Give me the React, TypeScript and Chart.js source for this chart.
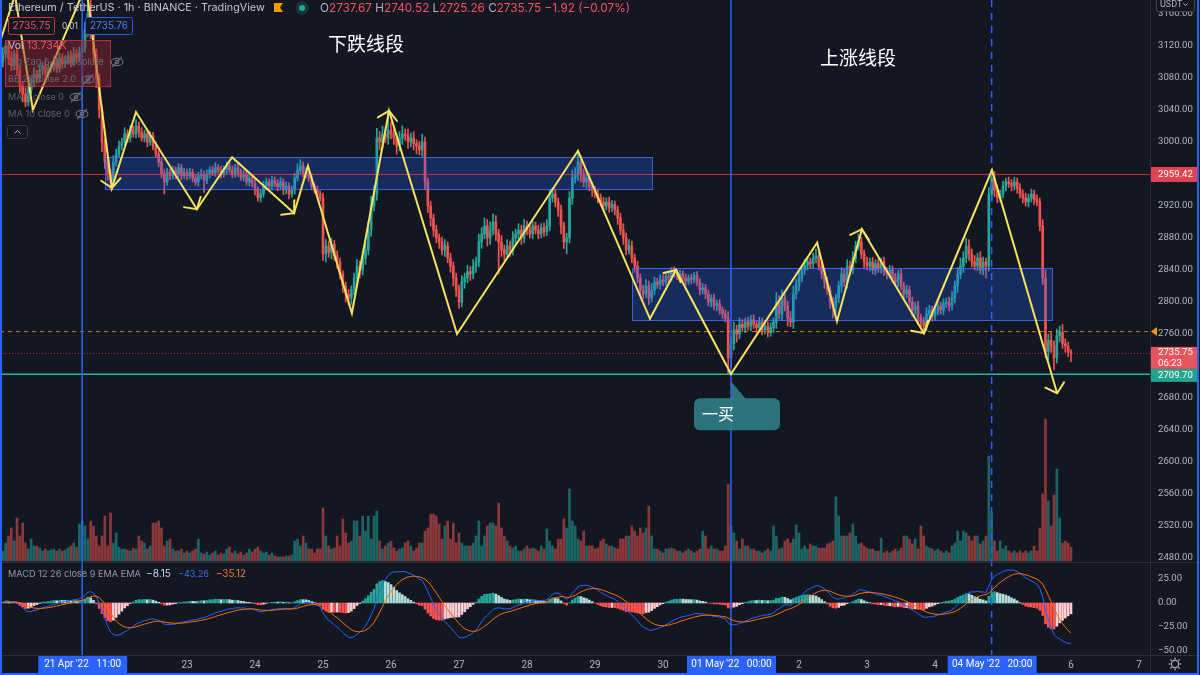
import React, { useEffect, useRef } from "react";
import { Chart, registerables } from "chart.js";

Chart.register(...registerables);

// ---------- DATA (1h candles, hours counted from 01 May 2022 00:00) ----------
const FIRST_HOUR = -258; // 20 Apr 06:00
const FIRST_OPEN = 3095;

const CLOSES: number[] = [
  // 20 Apr (06:00-23:00)
  3100, 3110, 3120, 3105, 3095, 3110, 3090, 3070, 3060, 3050, 3065, 3075, 3085, 3080, 3090, 3095, 3085, 3092,
  // 21 Apr
  3095, 3100, 3092, 3105, 3098, 3102, 3108, 3100, 3110, 3105, 3112, 3118, 3140, 3160, 3135, 3110, 3080, 3040, 3000, 2975, 2960, 2952, 2975, 2985,
  // 22 Apr
  2995, 3000, 3010, 3005, 3015, 3010, 3020, 3012, 3005, 3010, 3000, 3008, 2995, 2985, 2975, 2960, 2950, 2962, 2958, 2965, 2960, 2968, 2958, 2962,
  // 23 Apr
  2958, 2962, 2955, 2950, 2958, 2960, 2952, 2960, 2965, 2962, 2968, 2965, 2960, 2966, 2970, 2965, 2960, 2968, 2962, 2956, 2960, 2950, 2955, 2948,
  // 24 Apr
  2940, 2930, 2935, 2945, 2950, 2945, 2952, 2948, 2944, 2950, 2940, 2945, 2935, 2940, 2955, 2965, 2970, 2960, 2962, 2955, 2945, 2940, 2935, 2930,
  // 25 Apr
  2860, 2870, 2862, 2872, 2858, 2850, 2835, 2820, 2810, 2805, 2815, 2830, 2845, 2840, 2855, 2865, 2890, 2920, 2935, 3005, 3000, 3010, 3005, 3015,
  // 26 Apr
  3010, 3005, 2995, 3005, 3010, 3008, 3000, 3005, 2998, 2995, 2990, 3000, 2950, 2920, 2905, 2890, 2880, 2875, 2865, 2870, 2855, 2845, 2830, 2815,
  // 27 Apr
  2800, 2825, 2830, 2838, 2835, 2845, 2850, 2875, 2885, 2895, 2880, 2890, 2900, 2885, 2875, 2865, 2860, 2870, 2865, 2880, 2885, 2890, 2880, 2895,
  // 28 Apr
  2890, 2885, 2895, 2890, 2885, 2893, 2888, 2895, 2930, 2935, 2925, 2915, 2895, 2875, 2880, 2930, 2955, 2960, 2975, 2960, 2950, 2955, 2945, 2940,
  // 29 Apr
  2935, 2930, 2925, 2920, 2925, 2918, 2922, 2915, 2905, 2890, 2880, 2865, 2870, 2855, 2845, 2830, 2815, 2810, 2820, 2805, 2815, 2825, 2822, 2828,
  // 30 Apr
  2825, 2832, 2830, 2838, 2836, 2832, 2835, 2830, 2826, 2830, 2828, 2833, 2825, 2815, 2818, 2810, 2800, 2805, 2795, 2798, 2790, 2785, 2780, 2730,
  // 01 May
  2748, 2765, 2760, 2772, 2768, 2775, 2770, 2778, 2772, 2768, 2775, 2765, 2770, 2762, 2768, 2775, 2800, 2785, 2805, 2795, 2780, 2775, 2810, 2820,
  // 02 May
  2830, 2840, 2845, 2850, 2848, 2855, 2858, 2845, 2835, 2825, 2815, 2800, 2795, 2805, 2820, 2835, 2825, 2845, 2840, 2855, 2870, 2875, 2860, 2850,
  // 03 May
  2845, 2850, 2840, 2848, 2842, 2850, 2838, 2835, 2840, 2830, 2825, 2835, 2820, 2810, 2815, 2800, 2790, 2795, 2780, 2775, 2770, 2785, 2790, 2782,
  // 04 May
  2790, 2795, 2790, 2798, 2800, 2795, 2805, 2820, 2835, 2845, 2855, 2870, 2860, 2850, 2845, 2855, 2840, 2850, 2845, 2935, 2955, 2940, 2930, 2935,
  // 05 May
  2945, 2950, 2948, 2945, 2950, 2942, 2935, 2930, 2925, 2930, 2935, 2928, 2925, 2895, 2830, 2738, 2752, 2745, 2730, 2758, 2762, 2748, 2745, 2737.67,
  // 06 May 00:00
  2735.75,
];

const WICK_UP: number[] = [
  6, 8, 5, 6, 8, 5, 6, 5, 6, 8, 5, 6, 8, 5, 6, 5, 6, 5,
  5, 6, 5, 6, 5, 6, 5, 6, 8, 6, 7, 8, 10, 25, 30, 8, 6, 5, 5, 4, 5, 6, 8, 6,
  6, 5, 8, 5, 6, 5, 8, 5, 6, 5, 6, 5, 4, 5, 4, 5, 6, 5, 4, 5, 4, 5, 4, 5,
  4, 5, 4, 5, 4, 6, 4, 5, 4, 5, 6, 4, 5, 4, 5, 4, 5, 4, 5, 4, 5, 4, 5, 4,
  5, 4, 5, 6, 5, 4, 5, 4, 5, 6, 4, 5, 4, 5, 6, 8, 8, 5, 6, 4, 5, 4, 5, 4,
  6, 8, 6, 8, 5, 6, 5, 4, 5, 6, 5, 6, 8, 6, 8, 10, 10, 12, 10, 12, 8, 10, 8, 22,
  10, 8, 6, 8, 10, 6, 8, 6, 8, 5, 6, 10, 6, 5, 6, 5, 6, 5, 6, 8, 5, 6, 5, 6,
  6, 8, 6, 8, 6, 8, 6, 10, 8, 10, 8, 10, 10, 8, 6, 8, 6, 8, 6, 8, 6, 8, 6, 8,
  6, 8, 6, 5, 6, 5, 6, 8, 10, 8, 6, 5, 6, 5, 6, 8, 10, 8, 12, 8, 6, 8, 6, 5,
  5, 6, 5, 6, 5, 6, 5, 4, 5, 6, 8, 6, 8, 6, 5, 6, 5, 6, 8, 6, 8, 6, 5, 6,
  6, 5, 6, 5, 6, 4, 5, 4, 5, 4, 5, 4, 5, 4, 5, 4, 5, 4, 5, 4, 5, 4, 5, 8,
  8, 10, 6, 8, 6, 5, 6, 5, 6, 5, 6, 5, 6, 5, 6, 5, 12, 8, 10, 8, 6, 8, 10, 8,
  8, 6, 8, 6, 5, 6, 8, 5, 6, 5, 6, 5, 6, 5, 6, 8, 6, 8, 6, 8, 6, 10, 6, 5,
  6, 5, 6, 5, 6, 5, 6, 5, 6, 5, 6, 5, 6, 5, 6, 5, 6, 5, 6, 5, 6, 8, 6, 5,
  5, 6, 5, 6, 5, 6, 8, 6, 8, 10, 8, 10, 8, 6, 8, 6, 8, 6, 5, 8, 11, 8, 6, 5,
  6, 5, 6, 5, 6, 5, 6, 5, 6, 5, 6, 5, 6, 5, 8, 10, 8, 10, 6, 8, 8, 10, 6, 5,
  2.85,
];

const WICK_DN: number[] = [
  5, 6, 5, 8, 6, 5, 6, 8, 10, 6, 5, 5, 6, 6, 5, 6, 5, 5,
  5, 6, 5, 5, 6, 5, 5, 6, 5, 6, 5, 5, 6, 8, 6, 10, 12, 10, 12, 8, 8, 12, 6, 5,
  4, 5, 4, 6, 5, 4, 5, 6, 4, 5, 6, 4, 5, 4, 6, 5, 15, 4, 5, 4, 6, 4, 5, 4,
  5, 4, 5, 4, 5, 4, 15, 4, 5, 4, 5, 4, 5, 4, 5, 4, 5, 4, 5, 4, 5, 4, 5, 4,
  6, 4, 5, 4, 5, 4, 5, 4, 5, 4, 6, 5, 6, 4, 5, 4, 5, 4, 5, 4, 5, 4, 5, 4,
  8, 10, 6, 8, 6, 8, 6, 8, 10, 9, 8, 6, 8, 10, 6, 8, 6, 8, 6, 8, 10, 8, 6, 8,
  6, 8, 10, 6, 8, 6, 8, 6, 8, 10, 6, 8, 10, 8, 10, 8, 6, 8, 6, 8, 6, 8, 10, 8,
  8, 6, 8, 6, 8, 6, 8, 6, 8, 6, 10, 8, 6, 8, 40, 8, 8, 6, 8, 6, 8, 6, 8, 6,
  6, 5, 6, 5, 6, 5, 6, 5, 6, 5, 6, 8, 10, 8, 15, 6, 8, 6, 8, 10, 6, 8, 6, 8,
  5, 6, 5, 6, 5, 6, 5, 6, 8, 6, 8, 6, 5, 6, 8, 6, 8, 6, 5, 8, 5, 6, 5, 6,
  5, 4, 5, 4, 5, 4, 5, 4, 5, 4, 5, 4, 5, 6, 5, 6, 5, 6, 5, 6, 5, 6, 5, 20,
  12, 8, 10, 6, 5, 6, 5, 6, 5, 6, 5, 6, 5, 6, 5, 6, 8, 6, 8, 6, 10, 6, 8, 6,
  6, 5, 6, 5, 6, 5, 6, 5, 6, 8, 6, 8, 15, 8, 6, 8, 6, 8, 6, 5, 6, 5, 6, 8,
  5, 6, 5, 6, 5, 6, 5, 6, 5, 6, 5, 6, 5, 6, 5, 6, 8, 6, 8, 6, 8, 6, 5, 6,
  5, 6, 5, 6, 5, 6, 5, 6, 8, 6, 8, 6, 8, 6, 5, 6, 5, 6, 15, 6, 8, 8, 6, 5,
  5, 6, 5, 6, 5, 6, 5, 6, 5, 6, 5, 6, 5, 6, 8, 8, 10, 8, 15, 6, 8, 6, 8, 6,
  10.49,
];

// volume in thousands of ETH
const VOLUMES: number[] = [
  14, 10, 18, 25, 33, 20, 43, 25, 38, 18, 12, 22, 15, 15, 13, 10, 12, 10,
  11, 12, 10, 12, 10, 11, 13, 15, 18, 14, 37, 40, 35, 22, 40, 35, 25, 15, 25, 45, 15, 48, 18, 28,
  14, 12, 12, 11, 10, 13, 12, 25, 20, 18, 12, 15, 38, 38, 40, 33, 15, 20, 22, 12, 10, 10, 12, 8,
  10, 8, 10, 12, 22, 8, 7, 9, 6, 8, 10, 6, 8, 7, 12, 14, 8, 10, 7, 9, 6, 8, 12, 9,
  12, 14, 10, 8, 9, 6, 8, 5, 4, 4, 4, 5, 5, 6, 20, 22, 15, 25, 18, 12, 12, 8, 12, 12,
  53, 25, 15, 12, 13, 25, 15, 42, 28, 18, 20, 40, 40, 25, 45, 30, 45, 22, 45, 50, 20, 12, 15, 18,
  20, 13, 10, 12, 13, 18, 20, 15, 10, 13, 18, 18, 30, 33, 47, 47, 45, 37, 22, 35, 40, 22, 38, 18,
  28, 18, 15, 15, 15, 18, 25, 40, 15, 25, 35, 38, 38, 35, 58, 33, 25, 20, 15, 13, 15, 10, 10, 12,
  15, 12, 13, 12, 10, 15, 12, 32, 20, 15, 12, 22, 22, 42, 33, 72, 40, 35, 22, 20, 30, 15, 15, 15,
  12, 13, 20, 22, 17, 15, 15, 13, 12, 22, 22, 25, 25, 35, 30, 25, 33, 28, 33, 55, 25, 12, 12, 10,
  8, 12, 12, 13, 12, 10, 10, 8, 10, 12, 10, 8, 10, 12, 30, 25, 12, 15, 12, 12, 10, 10, 15, 77,
  35, 28, 20, 12, 22, 15, 15, 12, 12, 10, 10, 8, 10, 12, 10, 35, 25, 12, 13, 20, 22, 18, 22, 36,
  28, 12, 15, 12, 17, 15, 15, 13, 13, 13, 17, 18, 20, 64, 45, 25, 25, 25, 28, 37, 25, 17, 18, 15,
  13, 12, 12, 10, 10, 23, 8, 10, 8, 10, 12, 10, 13, 25, 25, 22, 17, 22, 12, 35, 25, 15, 13, 12,
  10, 12, 10, 8, 10, 8, 15, 18, 30, 20, 30, 28, 25, 20, 25, 25, 17, 20, 25, 105, 48, 20, 10, 20,
  12, 15, 10, 8, 10, 8, 10, 8, 10, 8, 10, 15, 10, 33, 67, 142, 60, 35, 66, 92, 43, 18, 20, 18,
  14,
];

// hand-drawn zig-zag (hour, price)
const ZZ_HOURS = [-258, -252.7, -246.4, -227.6, -218.5, -210, -188.5, -176.1, -154.2, -149.3, -133.8, -120.7, -96.7, -54, -28.6, -19.4, 0, 30.4, 37.4, 46.2, 68.1, 92.1, 115.1];
const ZZ_PRICES = [3125, 3184, 3040, 3196, 2942.5, 3037.5, 2916, 2981, 2911, 2970, 2786, 3039, 2760, 2989, 2779, 2840, 2710, 2874, 2776, 2891, 2761, 2965, 2686];
const ZZ_ARROWS = [4, 6, 8, 11, 15, 19, 20, 22];

// consolidation boxes
const BOX_START = [-220.9, -34.9];
const BOX_END = [-27.9, 113.3];
const BOX_TOP = [2981.25, 2842.5];
const BOX_BOTTOM = [2941.25, 2777.5];

const LEVEL_RED = 2959.42;
const LEVEL_GREEN = 2709.7;
const LEVEL_ORANGE = 2763;
const LAST_PRICE = 2735.75;

const PRICE_TICKS = [2480, 2520, 2560, 2600, 2640, 2680, 2760, 2800, 2840, 2880, 2920, 3000, 3040, 3080, 3120, 3160];
const MACD_TICKS = [25, 0, -25, -50];
const DAY_TICK_HOURS = [-192, -168, -144, -120, -96, -72, -48, -24, 24, 48, 72, 120, 144];
const DAY_TICK_LABELS = ["23", "24", "25", "26", "27", "28", "29", "30", "2", "3", "4", "6", "7"];
const MARK_HOURS = [-229, 0, 92];
const MARK_LABELS = ["21 Apr '22   11:00", "01 May '22   00:00", "04 May '22   20:00"];

// ---------- STYLE ----------
const BG = "#131722";
const UP = "#26a69a";
const DOWN = "#ef5350";
const TEXT = "#b2b5be";
const YELLOW = "#f7e35c";
const BLUE = "#2962ff";
const RED_TXT = "#f7525f";
const FONT = "Inter, Roboto, 'Noto Sans', sans-serif";
const AXIS_FONT = "Roboto, 'Noto Sans', sans-serif";
const AXIS_SIZE = 9.6;
const CJK = "'Noto Sans CJK SC', sans-serif";

function ema(src: number[], len: number) {
  const k = 2 / (len + 1);
  const out: number[] = [];
  let prev = src[0];
  src.forEach((v, i) => {
    prev = i === 0 ? v : v * k + prev * (1 - k);
    out.push(prev);
  });
  return out;
}

const HOURS = CLOSES.map((_, i) => FIRST_HOUR + i);
const OPENS = CLOSES.map((c, i) => (i === 0 ? FIRST_OPEN : CLOSES[i - 1]));
const HIGHS = CLOSES.map((c, i) => Math.max(c, OPENS[i]) + (WICK_UP[i] ?? 4));
const LOWS = CLOSES.map((c, i) => Math.min(c, OPENS[i]) - (WICK_DN[i] ?? 4));
const IS_UP = CLOSES.map((c, i) => c >= OPENS[i]);
const EMA12 = ema(CLOSES, 12);
const EMA26 = ema(CLOSES, 26);
const MACD = EMA12.map((v, i) => v - EMA26[i]);
const SIGNAL = ema(MACD, 9);
const HIST = MACD.map((v, i) => v - SIGNAL[i]);
const HIST_COLORS = HIST.map((v, i) => {
  const p = i === 0 ? 0 : HIST[i - 1];
  if (v >= 0) return v > p ? "#26a69a" : "#b2dfdb";
  return v < p ? "#ff5252" : "#ffcdd2";
});

// ---------- DRAW HELPERS ----------
function seg(ctx: any, x1: number, y1: number, x2: number, y2: number, color: string, w: number, dash: number[] = []) {
  ctx.save();
  ctx.strokeStyle = color;
  ctx.lineWidth = w;
  ctx.setLineDash(dash);
  ctx.beginPath();
  ctx.moveTo(x1, y1);
  ctx.lineTo(x2, y2);
  ctx.stroke();
  ctx.restore();
}

function fitText(ctx: any, text: string, x: number, y: number, width: number, size: number, family: string, color: string, align: string = "left") {
  ctx.save();
  ctx.font = `${size}px ${family}`;
  const w = ctx.measureText(text).width;
  const s = w > 0 ? (size * width) / w : size;
  ctx.font = `${s.toFixed(2)}px ${family}`;
  ctx.fillStyle = color;
  ctx.textAlign = align;
  ctx.textBaseline = "middle";
  ctx.fillText(text, x, y);
  ctx.restore();
}

function text(ctx: any, t: string, x: number, y: number, size: number, family: string, color: string, align: string = "left") {
  ctx.save();
  ctx.font = `${size}px ${family}`;
  ctx.fillStyle = color;
  ctx.textAlign = align;
  ctx.textBaseline = "middle";
  ctx.fillText(t, x, y);
  ctx.restore();
}

function segText(ctx: any, parts: [string, string][], x: number, y: number, width: number, size: number, family: string) {
  ctx.save();
  ctx.font = `${size}px ${family}`;
  const total = parts.reduce((a, [t]) => a + ctx.measureText(t).width, 0);
  const s = (size * width) / total;
  ctx.font = `${s.toFixed(2)}px ${family}`;
  ctx.textBaseline = "middle";
  ctx.textAlign = "left";
  let cx = x;
  for (const [t, c] of parts) {
    ctx.fillStyle = c;
    ctx.fillText(t, cx, y);
    cx += ctx.measureText(t).width;
  }
  ctx.restore();
}

function eyeOff(ctx: any, cx: number, cy: number) {
  ctx.save();
  ctx.strokeStyle = "#6b6e79";
  ctx.lineWidth = 1.1;
  ctx.beginPath();
  ctx.ellipse(cx, cy, 6, 3.6, 0, 0, Math.PI * 2);
  ctx.stroke();
  ctx.beginPath();
  ctx.arc(cx, cy, 1.8, 0, Math.PI * 2);
  ctx.stroke();
  ctx.beginPath();
  ctx.moveTo(cx - 5, cy + 5);
  ctx.lineTo(cx + 5, cy - 5);
  ctx.stroke();
  ctx.restore();
}

function gear(ctx: any, cx: number, cy: number) {
  ctx.save();
  ctx.strokeStyle = TEXT;
  ctx.lineWidth = 1.2;
  ctx.beginPath();
  ctx.arc(cx, cy, 3.6, 0, Math.PI * 2);
  ctx.stroke();
  for (let i = 0; i < 8; i++) {
    const a = (i * Math.PI) / 4;
    ctx.beginPath();
    ctx.moveTo(cx + Math.cos(a) * 4.6, cy + Math.sin(a) * 4.6);
    ctx.lineTo(cx + Math.cos(a) * 6.4, cy + Math.sin(a) * 6.4);
    ctx.stroke();
  }
  ctx.restore();
}

function tag(ctx: any, y: number, h: number, bg: string, lines: string[]) {
  ctx.save();
  ctx.fillStyle = bg;
  ctx.fillRect(1151, y, 47, h);
  ctx.restore();
  const lh = h / lines.length;
  lines.forEach((t, i) => text(ctx, t, 1158, y + lh * i + lh / 2 + 0.5, AXIS_SIZE, AXIS_FONT, "#ffffff"));
}

const overlayPlugin = {
  id: "tvOverlay",
  beforeDraw(chart: any) {
    const ctx = chart.ctx;
    ctx.save();
    ctx.fillStyle = BG;
    ctx.fillRect(0, 0, chart.width, chart.height);
    ctx.restore();
  },
  afterDatasetDraw(chart: any, args: any) {
    if (args.index !== 3) return;
    const ctx = chart.ctx;
    const sx = chart.scales.x;
    const sy = chart.scales.y;
    const X = (h: number) => sx.getPixelForValue(h);
    const Y = (p: number) => sy.getPixelForValue(p);
    const { left, right } = chart.chartArea;
    // boxes
    for (let i = 0; i < BOX_START.length; i++) {
      const x0 = X(BOX_START[i]);
      const x1 = X(BOX_END[i]);
      const y0 = Y(BOX_TOP[i]);
      const y1 = Y(BOX_BOTTOM[i]);
      ctx.save();
      ctx.fillStyle = "rgba(41,98,255,0.27)";
      ctx.fillRect(x0, y0, x1 - x0, y1 - y0);
      ctx.strokeStyle = "rgba(70,115,255,0.8)";
      ctx.lineWidth = 1;
      ctx.strokeRect(Math.round(x0) + 0.5, Math.round(y0) + 0.5, Math.round(x1 - x0), Math.round(y1 - y0));
      ctx.restore();
    }
    // levels
    seg(ctx, left, Y(LEVEL_RED), right, Y(LEVEL_RED), "rgba(242,54,69,0.85)", 1);
    seg(ctx, left, Y(LEVEL_ORANGE), right, Y(LEVEL_ORANGE), "rgba(240,150,40,0.8)", 1, [4, 4]);
    seg(ctx, left, Y(LAST_PRICE), right, Y(LAST_PRICE), "rgba(242,54,69,0.75)", 1, [1, 2]);
    seg(ctx, left, Y(LEVEL_GREEN), right, Y(LEVEL_GREEN), "#2bb39f", 1.6);
    // vertical markers
    seg(ctx, X(MARK_HOURS[0]), 0, X(MARK_HOURS[0]), 655, BLUE, 1.5);
    seg(ctx, X(MARK_HOURS[1]), 0, X(MARK_HOURS[1]), 655, BLUE, 1.5);
    seg(ctx, X(MARK_HOURS[2]), 0, X(MARK_HOURS[2]), 655, BLUE, 1.5, [7, 6]);
  },
  afterDraw(chart: any) {
    const ctx = chart.ctx;
    const sx = chart.scales.x;
    const sy = chart.scales.y;
    const sm = chart.scales.ym;
    const X = (h: number) => sx.getPixelForValue(h);
    const Y = (p: number) => sy.getPixelForValue(p);

    // zigzag arrowheads
    ctx.save();
    ctx.strokeStyle = YELLOW;
    ctx.lineWidth = 2;
    ctx.lineCap = "round";
    ZZ_ARROWS.forEach((k) => {
      const x1 = X(ZZ_HOURS[k - 1]);
      const y1 = Y(ZZ_PRICES[k - 1]);
      const x2 = X(ZZ_HOURS[k]);
      const y2 = Y(ZZ_PRICES[k]);
      const ang = Math.atan2(y1 - y2, x1 - x2);
      const L = 13;
      const a = 0.85;
      ctx.beginPath();
      ctx.moveTo(x2 + L * Math.cos(ang + a), y2 + L * Math.sin(ang + a));
      ctx.lineTo(x2, y2);
      ctx.lineTo(x2 + L * Math.cos(ang - a), y2 + L * Math.sin(ang - a));
      ctx.stroke();
    });
    ctx.restore();

    // Chinese annotations
    text(ctx, "下跌线段", 328, 44, 19, CJK, "#ffffff");
    text(ctx, "上涨线段", 820, 58, 19, CJK, "#ffffff");

    // callout 一买
    const tx = X(0);
    const ty = Y(LEVEL_GREEN) + 7;
    ctx.save();
    ctx.fillStyle = "rgba(46,125,135,0.92)";
    ctx.beginPath();
    ctx.roundRect(tx - 37, ty + 17, 86, 32, 6);
    ctx.fill();
    ctx.beginPath();
    ctx.moveTo(tx, ty);
    ctx.lineTo(tx, ty + 18);
    ctx.lineTo(tx + 15, ty + 18);
    ctx.closePath();
    ctx.fill();
    ctx.restore();
    text(ctx, "一买", tx - 29, ty + 33, 16, CJK, "#ffffff");

    // header
    fitText(ctx, "Ethereum / TetherUS · 1h · BINANCE · TradingView", 8, 8, 257, 12, FONT, "#c3c6ce");
    ctx.save();
    ctx.fillStyle = "#ff9800";
    ctx.beginPath();
    ctx.moveTo(274, 3);
    ctx.lineTo(283, 3);
    ctx.lineTo(280, 7.5);
    ctx.lineTo(283, 12);
    ctx.lineTo(274, 12);
    ctx.closePath();
    ctx.fill();
    ctx.fillStyle = "rgba(38,166,154,0.22)";
    ctx.beginPath();
    ctx.arc(302, 8, 6.5, 0, Math.PI * 2);
    ctx.fill();
    ctx.fillStyle = UP;
    ctx.beginPath();
    ctx.arc(302, 8, 3, 0, Math.PI * 2);
    ctx.fill();
    ctx.restore();
    segText(
      ctx,
      [
        ["O", TEXT], ["2737.67", RED_TXT], [" H", TEXT], ["2740.52", RED_TXT], [" L", TEXT],
        ["2725.26", RED_TXT], [" C", TEXT], ["2735.75", RED_TXT], [" −1.92 (−0.07%)", RED_TXT],
      ],
      320, 8, 310, 11, FONT
    );
    // price boxes row
    ctx.save();
    ctx.fillStyle = BG;
    ctx.fillRect(8, 17, 46, 17);
    ctx.fillRect(85, 17, 47, 17);
    ctx.strokeStyle = "rgba(242,54,69,0.85)";
    ctx.lineWidth = 1;
    ctx.beginPath();
    ctx.roundRect(8.5, 17.5, 46, 17, 2);
    ctx.stroke();
    ctx.strokeStyle = "rgba(41,98,255,0.9)";
    ctx.beginPath();
    ctx.roundRect(85.5, 17.5, 47, 17, 2);
    ctx.stroke();
    ctx.restore();
    fitText(ctx, "2735.75", 31.5, 26, 38, 11, FONT, RED_TXT, "center");
    fitText(ctx, "0.01", 62, 26, 16, 10, FONT, "#c3c6ce");
    fitText(ctx, "2735.76", 109, 26, 38, 11, FONT, "#4f80ff", "center");

    // legend block
    ctx.save();
    ctx.fillStyle = "rgba(150,38,48,0.45)";
    ctx.fillRect(5, 40, 105, 46);
    ctx.strokeStyle = "rgba(205,60,70,0.75)";
    ctx.lineWidth = 1;
    ctx.strokeRect(5.5, 40.5, 105, 46);
    ctx.restore();
    text(ctx, "Vol", 8, 45.5, 10.5, FONT, "#c3c6ce");
    text(ctx, "13.734K", 27, 45.5, 10.5, FONT, RED_TXT);
    fitText(ctx, "Zig Zag 5 10 Absolute", 8, 62, 96, 10.5, FONT, "#676a75");
    eyeOff(ctx, 117, 62);
    fitText(ctx, "BB 20 close 2.0", 8, 79.5, 68, 10.5, FONT, "#676a75");
    eyeOff(ctx, 88, 79.5);
    fitText(ctx, "MA 5 close 0", 8, 97, 56, 10.5, FONT, "#5d606b");
    eyeOff(ctx, 76, 97);
    fitText(ctx, "MA 10 close 0", 8, 114, 62, 10.5, FONT, "#5d606b");
    eyeOff(ctx, 82, 114);
    ctx.save();
    ctx.strokeStyle = "#363a45";
    ctx.lineWidth = 1;
    ctx.beginPath();
    ctx.roundRect(7.5, 125.5, 20, 13, 2);
    ctx.stroke();
    ctx.strokeStyle = "#b2b5be";
    ctx.beginPath();
    ctx.moveTo(14.5, 133.5);
    ctx.lineTo(17.5, 130.5);
    ctx.lineTo(20.5, 133.5);
    ctx.stroke();
    ctx.restore();

    // MACD legend
    fitText(ctx, "MACD 12 26 close 9 EMA EMA", 8, 574, 133, 10.5, FONT, "#9598a1");
    fitText(ctx, "−8.15", 146, 574, 25, 10.5, FONT, "#d1d4dc");
    fitText(ctx, "−43.26", 178, 574, 31, 10.5, FONT, "#3d6ff5");
    fitText(ctx, "−35.12", 216, 574, 30, 10.5, FONT, "#f07a3a");

    // pane separators
    seg(ctx, 0, 562.5, 1200, 562.5, "#2a2e39", 1);
    seg(ctx, 0, 655.5, 1200, 655.5, "#2a2e39", 1);
    seg(ctx, 1150.5, 0, 1150.5, 675, "#2a2e39", 1);

    // MACD axis labels
    MACD_TICKS.forEach((v) => {
      const y = sm.getPixelForValue(v);
      const t = v < 0 ? "−" + Math.abs(v).toFixed(2) : v.toFixed(2);
      text(ctx, t, 1158, y, AXIS_SIZE, AXIS_FONT, TEXT);
    });

    // USDT box with chevron
    ctx.save();
    ctx.fillStyle = BG;
    ctx.fillRect(1155, 0, 42, 12);
    ctx.strokeStyle = "#434651";
    ctx.lineWidth = 1;
    ctx.beginPath();
    ctx.roundRect(1156.5, -3.5, 38, 15, 2);
    ctx.stroke();
    ctx.strokeStyle = TEXT;
    ctx.beginPath();
    ctx.moveTo(1183.5, 3.5);
    ctx.lineTo(1185.5, 5.5);
    ctx.lineTo(1187.5, 3.5);
    ctx.stroke();
    ctx.restore();
    text(ctx, "USDT", 1160, 5, 9, AXIS_FONT, TEXT);

    // price tags
    const yr = Y(LEVEL_RED);
    tag(ctx, yr - 7.5, 15, "#e3434e", ["2959.42"]);
    const yl = Y(LAST_PRICE);
    tag(ctx, yl - 6.5, 22, "#e8545c", ["2735.75", "06:23"]);
    const yg = Math.max(Y(LEVEL_GREEN) - 7, yl + 15.5);
    tag(ctx, yg, 13, "#22a590", ["2709.70"]);
    // orange marker
    const yo = Y(LEVEL_ORANGE);
    ctx.save();
    ctx.fillStyle = "#ff9800";
    ctx.beginPath();
    ctx.moveTo(1151, yo);
    ctx.lineTo(1157, yo - 4.5);
    ctx.lineTo(1157, yo + 4.5);
    ctx.closePath();
    ctx.fill();
    ctx.restore();

    // time axis date boxes
    MARK_HOURS.forEach((h, i) => {
      const cx = X(h);
      ctx.save();
      ctx.fillStyle = BLUE;
      ctx.fillRect(cx - 44, 656, 89, 17);
      ctx.restore();
      text(ctx, MARK_LABELS[i], cx + 0.5, 664.5, 10, AXIS_FONT, "#ffffff", "center");
    });
    gear(ctx, 1175, 664);

    // window frame
    ctx.save();
    ctx.strokeStyle = BLUE;
    ctx.lineWidth = 2;
    ctx.strokeRect(1, -5, 1197, 679);
    ctx.restore();
  },
};

export default function App() {
  const ref = useRef<HTMLCanvasElement>(null);

  useEffect(() => {
    document.body.style.margin = "0";
    document.body.style.background = BG;
    Chart.defaults.font.family = FONT;

    const candleColors = IS_UP.map((u) => (u ? UP : DOWN));
    const volColors = IS_UP.map((u) => (u ? "rgba(38,166,154,0.55)" : "rgba(239,83,80,0.55)"));

    const chart = new Chart(ref.current as HTMLCanvasElement, {
      type: "bar",
      data: {
        datasets: [
          {
            type: "bar",
            label: "volume",
            data: HOURS.map((h, i) => ({ x: h, y: VOLUMES[i] ?? 10 })),
            yAxisID: "yv",
            backgroundColor: volColors,
            barThickness: 2,
            grouped: false,
            order: 10,
          },
          {
            type: "bar",
            label: "histogram",
            data: HOURS.map((h, i) => ({ x: h, y: HIST[i] })),
            yAxisID: "ym",
            backgroundColor: HIST_COLORS,
            barThickness: 2,
            grouped: false,
            order: 9,
          },
          {
            type: "bar",
            label: "wick",
            data: HOURS.map((h, i) => ({ x: h, y: [LOWS[i], HIGHS[i]] })),
            yAxisID: "y",
            backgroundColor: candleColors,
            barThickness: 1,
            grouped: false,
            order: 8,
          },
          {
            type: "bar",
            label: "body",
            data: HOURS.map((h, i) => ({ x: h, y: [OPENS[i], CLOSES[i]] })),
            yAxisID: "y",
            backgroundColor: candleColors,
            barThickness: 2,
            minBarLength: 1,
            grouped: false,
            order: 7,
          },
          {
            type: "line",
            label: "MACD",
            data: HOURS.map((h, i) => ({ x: h, y: MACD[i] })),
            yAxisID: "ym",
            borderColor: "#2962ff",
            borderWidth: 1,
            pointRadius: 0,
            tension: 0,
            order: 5,
          },
          {
            type: "line",
            label: "Signal",
            data: HOURS.map((h, i) => ({ x: h, y: SIGNAL[i] })),
            yAxisID: "ym",
            borderColor: "#ff6d00",
            borderWidth: 1,
            pointRadius: 0,
            tension: 0,
            order: 4,
          },
          {
            type: "line",
            label: "ZigZag",
            data: ZZ_HOURS.map((h, i) => ({ x: h, y: ZZ_PRICES[i] })),
            yAxisID: "y",
            borderColor: YELLOW,
            borderWidth: 2,
            pointRadius: 0,
            tension: 0,
            order: 1,
          },
        ] as any,
      },
      options: {
        animation: false,
        responsive: false,
        maintainAspectRatio: false,
        events: [],
        layout: { padding: 0 },
        plugins: { legend: { display: false }, tooltip: { enabled: false } },
        scales: {
          x: {
            type: "linear",
            min: -258,
            max: -258 + 1150 / (68 / 24),
            offset: false,
            grid: { display: false, drawTicks: false },
            border: { display: false },
            ticks: {
              autoSkip: false,
              maxRotation: 0,
              padding: 4,
              color: TEXT,
              font: { size: 10, family: AXIS_FONT },
              callback: (_v: any, i: number) => DAY_TICK_LABELS[i],
            },
            afterBuildTicks: (s: any) => {
              s.ticks = DAY_TICK_HOURS.map((v) => ({ value: v }));
            },
            afterFit: (s: any) => {
              s.height = 20;
              s.paddingLeft = 0;
              s.paddingRight = 0;
            },
          },
          y: {
            type: "linear",
            position: "right",
            min: 3000 - (655 - 142) / 0.8,
            max: 3000 + 142 / 0.8,
            grid: { display: false, drawTicks: false },
            border: { display: false },
            ticks: {
              autoSkip: false,
              padding: 8,
              color: TEXT,
              font: { size: AXIS_SIZE, family: AXIS_FONT },
              callback: (v: any) => Number(v).toFixed(2),
            },
            afterBuildTicks: (s: any) => {
              s.ticks = PRICE_TICKS.map((v) => ({ value: v }));
            },
            afterFit: (s: any) => {
              s.width = 50;
              s.paddingTop = 0;
              s.paddingBottom = 0;
            },
          },
          ym: {
            type: "linear",
            display: false,
            min: -(655 - 603) / 0.96,
            max: 603 / 0.96,
          },
          yv: {
            type: "linear",
            display: false,
            min: -(655 - 561),
            max: 561,
          },
        },
      } as any,
      plugins: [overlayPlugin as any],
    });

    return () => chart.destroy();
  }, []);

  return (
    <div style={{ position: "relative", width: 1200, height: 675, overflow: "hidden", background: BG }}>
      <canvas ref={ref} width={1200} height={675} style={{ display: "block", width: 1200, height: 675 }} />
    </div>
  );
}
